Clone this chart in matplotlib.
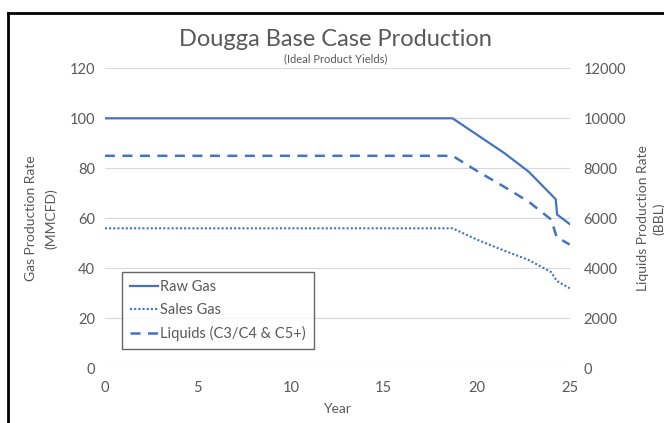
import matplotlib
matplotlib.use("Agg")
import matplotlib.pyplot as plt
from matplotlib.lines import Line2D

plt.rcParams['font.family'] = ['Lato', 'DejaVu Sans']

# Data
raw_years = [0, 18.7, 20.0, 21.5, 22.8, 24.25, 24.32, 25.0]
raw_gas = [100, 100, 93.5, 86.0, 78.6, 67.6, 61.5, 57.7]

sales_years = [0, 18.7, 20.0, 21.5, 22.8, 24.0, 24.3, 25.0]
sales_gas = [56, 56, 51.5, 47.0, 43.3, 38.5, 35.0, 32.0]

liq_years = [0, 18.7, 20.0, 21.5, 22.8, 24.0, 24.3, 25.0]
liquids = [8500, 8500, 7900, 7250, 6660, 5950, 5250, 4950]

left_ticks = [0, 20, 40, 60, 80, 100, 120]
right_ticks = [0, 2000, 4000, 6000, 8000, 10000, 12000]
x_ticks = [0, 5, 10, 15, 20, 25]

blue = '#4472C4'
txt = '#595959'
grid = '#D9D9D9'

fig = plt.figure(figsize=(6.64, 4.23), dpi=100)
ax = fig.add_axes([0.158, 0.1293, 0.700, 0.7092])
ax2 = ax.twinx()

l1, = ax.plot(raw_years, raw_gas, color=blue, lw=1.6, label='Raw Gas')
l2, = ax.plot(sales_years, sales_gas, color=blue, lw=1.5, ls=(0, (1, 1)), label='Sales Gas')
l3, = ax2.plot(liq_years, liquids, color=blue, lw=1.8, ls=(0, (4, 3)), label='Liquids (C3/C4 & C5+)')

ax.set_xlim(0, 25)
ax.set_ylim(0, 120)
ax2.set_ylim(0, 12000)
ax.set_xticks(x_ticks)
ax.set_yticks(left_ticks)
ax2.set_yticks(right_ticks)
ax.yaxis.grid(True, color=grid, lw=0.8)
ax.set_axisbelow(True)
for a in (ax, ax2):
    for s in a.spines.values():
        s.set_visible(False)
    a.tick_params(length=0, colors=txt, labelsize=10.5)
ax.tick_params(axis='y', pad=7)
ax.tick_params(axis='x', pad=9)
ax2.tick_params(axis='y', pad=10)

ax.set_xlabel('Year', color=txt, fontsize=10, labelpad=6)
ax.set_ylabel('Gas Production Rate\n(MMCFD)', color=txt, fontsize=10, labelpad=9, linespacing=1.7)
ax2.set_ylabel('Liquids Production Rate\n(BBL)', color=txt, fontsize=10, rotation=90,
               labelpad=8, linespacing=1.35)

fig.text(0.505, 0.906, 'Dougga Base Case Production', ha='center', va='center',
         color=txt, fontsize=17)
fig.text(0.505, 0.862, '(Ideal Product Yields)', ha='center', va='center',
         color=txt, fontsize=8)

leg = ax.legend(handles=[l1, l2, l3], loc='lower left', bbox_to_anchor=(0.022, 0.04),
                fontsize=10.5, frameon=True, fancybox=False, handlelength=1.9,
                handletextpad=0.15, labelspacing=0.6, borderpad=0.55)
leg.get_frame().set_edgecolor('#404040')
leg.get_frame().set_linewidth(1.0)
for t in leg.get_texts():
    t.set_color(txt)

# Outer frame (cropped border)
fig.add_artist(Line2D([8/664, 1.0], [1 - 13/423, 1 - 13/423], color='black', lw=2,
                      transform=fig.transFigure))
fig.add_artist(Line2D([8/664, 8/664], [0, 1 - 13/423], color='black', lw=2,
                      transform=fig.transFigure))

fig.savefig('out.png', dpi=100)
